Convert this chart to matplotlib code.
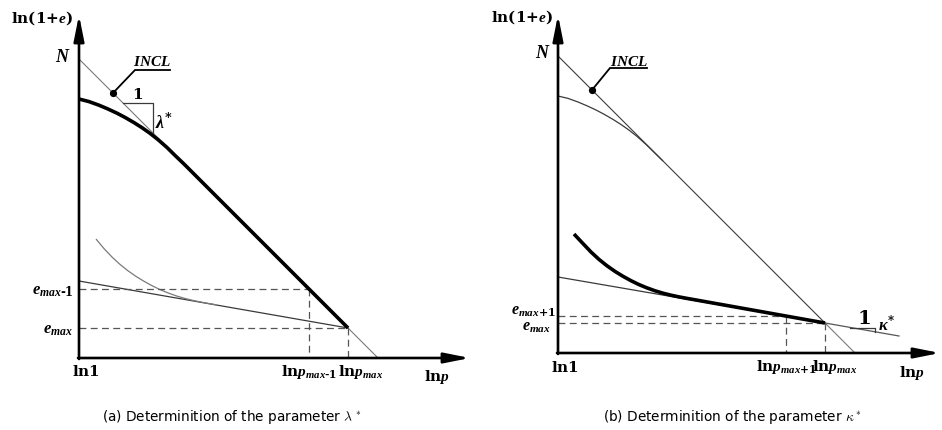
import matplotlib
matplotlib.use("Agg")
import matplotlib.pyplot as plt
import matplotlib.mathtext as mathtext

plt.rcParams["mathtext.fontset"] = "custom"
plt.rcParams["mathtext.rm"] = "DejaVu Serif:bold"
plt.rcParams["mathtext.it"] = "Liberation Serif:bold:italic"
plt.rcParams["mathtext.bf"] = "DejaVu Serif:bold"


def _parses(s):
    try:
        mathtext.MathTextParser("path").parse(s)
        return True
    except Exception:
        return False


# hyphen / plus inside subscripts, without operator spacing
HY = r"\text{-}" if _parses(r"$a_{b\text{-}1}$") else "{-}"
PL = r"\text{+}" if _parses(r"$a_{b\text{+}1}$") else "{+}"

# ---------------- panel (a): lambda* ----------------
a_N = 299                       # INCL intercept at ln1
a_lnp_max, a_e_max = 269, 30
a_lnp_max1, a_e_max1 = 230, 69
# virgin compression curve, joining the INCL and running down to e_max
a_virgin_x = [0, 10, 20, 29, 38, 46, 55, 63, 71, 79, 88, 96, 105, 269]
a_virgin_y = [259, 256.4, 252.8, 249, 244.8, 240.6, 235.4, 230.3, 224.7, 218.4, 210.5, 202.6, 194, 30]
# reloading line through (lnp_max, e_max)
a_reload_x = [0, 269]
a_reload_y = [77, 30]
# unload/reload curve
a_unload_x = [17, 25, 33, 41, 49, 57, 65, 73, 81, 89, 97, 105, 113, 121, 129, 137]
a_unload_y = [119, 109.4, 101, 93.6, 87.2, 81.6, 76.7, 72.3, 68.4, 65.1, 62.2, 59.8, 57.8, 56.1, 54.6, 53.2]

# ---------------- panel (b): kappa* ----------------
b_N = 297
b_lnp_max, b_e_max = 267, 30
b_lnp_max1, b_e_max1 = 228, 37
b_virgin_x = [0, 10, 20, 29, 38, 46, 55, 63, 71, 79, 88, 96, 105]
b_virgin_y = [257, 254.6, 251, 247.2, 243, 238.8, 233.6, 228.5, 222.9, 216.6, 208.6, 200.8, 192]
b_kappa_x = [0, 267, 341]
b_kappa_y = [76, 30, 17]
b_thick_x = [16, 25, 33, 41, 49, 57, 65, 73, 81, 89, 97, 105, 113, 121, 129, 137, 267]
b_thick_y = [119, 109.4, 101, 93.6, 87.2, 81.6, 76.7, 72.3, 68.4, 65.1, 62.2, 59.8, 57.8, 56.1, 54.6, 53.2, 30]

fig = plt.figure(figsize=(9.42, 4.30), dpi=100)
axa = fig.add_axes([0, 0, 470 / 942, 1])
axb = fig.add_axes([470 / 942, 0, 472 / 942, 1])
axa.set_xlim(-79, 391); axa.set_ylim(-72, 358)
axb.set_xlim(-88, 384); axb.set_ylim(-77, 353)
for ax in (axa, axb):
    ax.axis("off")

THIN = "#3a3a3a"
LIGHT = "#7a7a7a"
DASH = dict(color="#555555", lw=0.9, linestyle=(0, (5.5, 3.5)))
arrow_kw = dict(arrowstyle="-|>,head_length=1.1,head_width=0.22",
                mutation_scale=14, lw=1.9, color="black",
                shrinkA=0, shrinkB=0)
CURVE = dict(solid_capstyle="butt", solid_joinstyle="round")

label_fs = 11
e_fs = 12


def axes_arrows(ax, xtip, ytip):
    ax.annotate("", xy=(0, ytip), xytext=(0, -1), arrowprops=arrow_kw)
    ax.annotate("", xy=(xtip, 0), xytext=(-1, 0), arrowprops=arrow_kw)


def incl_leader(ax, dot, knee, end, text_xy):
    ax.plot([dot[0], knee[0], end[0]], [dot[1], knee[1], end[1]],
            color="black", lw=1.3, solid_joinstyle="miter")
    ax.plot([dot[0]], [dot[1]], "o", color="black", ms=4.2)
    ax.text(*text_xy, r"$INCL$", fontsize=11, ha="center", va="center")


def caption(ax, x, y, s):
    ax.text(x, y, s, fontsize=9.8, family="DejaVu Sans", math_fontfamily="cm",
            ha="center", va="center")


E_LABEL = r"$\mathrm{ln(1{+}}e\mathrm{)}$"

# ---- panel (a) ----
axa.plot([0, a_N], [a_N, 0], color=LIGHT, lw=0.8)
axa.plot(a_reload_x, a_reload_y, color=THIN, lw=0.9)
axa.plot(a_unload_x, a_unload_y, color=LIGHT, lw=0.9, **CURVE)
axa.plot([0, a_lnp_max1], [a_e_max1, a_e_max1], **DASH)
axa.plot([a_lnp_max1, a_lnp_max1], [a_e_max1, 0], **DASH)
axa.plot([0, a_lnp_max], [a_e_max, a_e_max], **DASH)
axa.plot([a_lnp_max, a_lnp_max], [a_e_max, 0], **DASH)
axa.plot(a_virgin_x, a_virgin_y, color="black", lw=2.6, **CURVE)
# slope triangle
axa.plot([44, 74, 74], [a_N - 44, a_N - 44, a_N - 74], color=THIN, lw=0.9)
axa.text(59, a_N - 44 + 1, r"$\mathrm{1}$", fontsize=11, ha="center", va="bottom")
axa.text(76, 235, r"$\lambda^{*}$", fontsize=13, ha="left", va="center")
incl_leader(axa, (34, a_N - 34), (56, 288), (91, 288), (73, 296))
axes_arrows(axa, 391, 343)

axa.text(-37, 340, E_LABEL, fontsize=label_fs, ha="center", va="center")
axa.text(-16, 301, r"$N$", fontsize=13, ha="center", va="center")
axa.text(-5, a_e_max1 - 1, r"$e_{max" + HY + "1}$", fontsize=e_fs, ha="right", va="center")
axa.text(-6, a_e_max - 1, r"$e_{max}$", fontsize=e_fs, ha="right", va="center")
axa.text(7, -14, r"$\mathrm{ln1}$", fontsize=label_fs, ha="center", va="center")
axa.text(a_lnp_max1, -14, r"$\mathrm{ln}p_{max" + HY + "1}$", fontsize=label_fs, ha="center", va="center")
axa.text(282, -14, r"$\mathrm{ln}p_{max}$", fontsize=label_fs, ha="center", va="center")
axa.text(358, -19, r"$\mathrm{ln}p$", fontsize=label_fs, ha="center", va="center")
caption(axa, 153, -59, r"(a) Determinition of the parameter $\lambda^*$")

# ---- panel (b) ----
axb.plot([0, b_lnp_max], [b_N, b_N - b_lnp_max], color=THIN, lw=0.8)
axb.plot([b_lnp_max, b_N], [b_N - b_lnp_max, 0], color=LIGHT, lw=0.8)
axb.plot(b_virgin_x, b_virgin_y, color=THIN, lw=0.9, **CURVE)
axb.plot(b_kappa_x[:2], b_kappa_y[:2], color=THIN, lw=0.9)
axb.plot(b_kappa_x[1:], b_kappa_y[1:], color="#555555", lw=0.9)
axb.plot([0, b_lnp_max1], [b_e_max1, b_e_max1], **DASH)
axb.plot([b_lnp_max1, b_lnp_max1], [b_e_max1, 0], **DASH)
axb.plot([0, b_lnp_max], [b_e_max, b_e_max], **DASH)
axb.plot([b_lnp_max, b_lnp_max], [b_e_max, 0], **DASH)
axb.plot(b_thick_x, b_thick_y, color="black", lw=2.6, **CURVE)
# slope triangle on the kappa line
axb.plot([292, 317, 317], [25.5, 25.5, 21.2], color=THIN, lw=0.9)
axb.text(306, 25, r"$\mathrm{1}$", fontsize=14, ha="center", va="bottom")
axb.text(320, 28, r"$\kappa^{*}$", fontsize=12, ha="left", va="center")
incl_leader(axb, (34, b_N - 34), (52, 285), (89, 285), (71, 292))
axes_arrows(axb, 382, 338)

axb.text(-36, 336, E_LABEL, fontsize=label_fs, ha="center", va="center")
axb.text(-15, 300, r"$N$", fontsize=13, ha="center", va="center")
axb.text(-2, b_e_max1 + 4.5, r"$e_{max" + PL + "1}$", fontsize=11.5, ha="right", va="center")
axb.text(-7, b_e_max - 4.5, r"$e_{max}$", fontsize=11.5, ha="right", va="center")
axb.text(6.5, -14, r"$\mathrm{ln1}$", fontsize=label_fs, ha="center", va="center")
axb.text(b_lnp_max1, -14, r"$\mathrm{ln}p_{max" + PL + "1}$", fontsize=label_fs, ha="center", va="center")
axb.text(277, -14, r"$\mathrm{ln}p_{max}$", fontsize=label_fs, ha="center", va="center")
axb.text(354, -20, r"$\mathrm{ln}p$", fontsize=label_fs, ha="center", va="center")
caption(axb, 174, -64, r"(b) Determinition of the parameter $\kappa^*$")

fig.savefig("out.png", dpi=100, facecolor="white")
